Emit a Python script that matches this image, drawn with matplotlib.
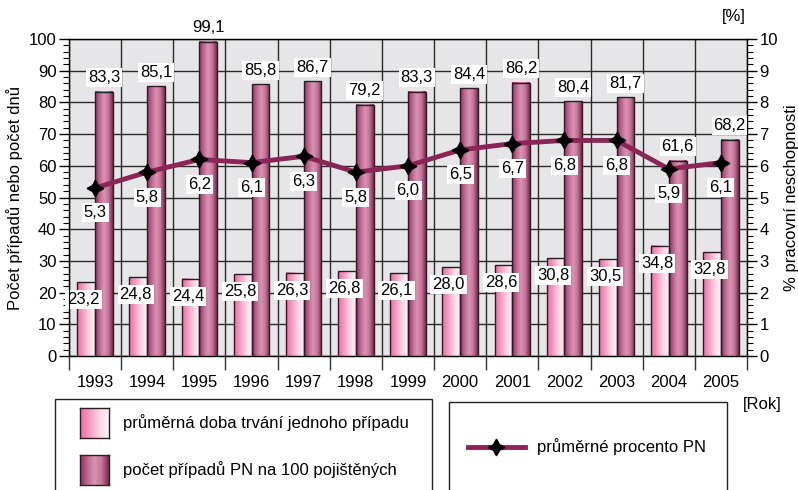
import numpy as np
import matplotlib
matplotlib.use('Agg')
import matplotlib.pyplot as plt
from matplotlib.patches import Rectangle
from matplotlib.lines import Line2D
from matplotlib.colors import LinearSegmentedColormap
from matplotlib.ticker import MultipleLocator

plt.rcParams['font.family'] = ['Liberation Sans', 'DejaVu Sans']

years = ['1993', '1994', '1995', '1996', '1997', '1998', '1999',
         '2000', '2001', '2002', '2003', '2004', '2005']
doba = [23.2, 24.8, 24.4, 25.8, 26.3, 26.8, 26.1, 28.0, 28.6, 30.8, 30.5, 34.8, 32.8]
pripady = [83.3, 85.1, 99.1, 85.8, 86.7, 79.2, 83.3, 84.4, 86.2, 80.4, 81.7, 61.6, 68.2]
procento = [5.3, 5.8, 6.2, 6.1, 6.3, 5.8, 6.0, 6.5, 6.7, 6.8, 6.8, 5.9, 6.1]

def fmt(v):
    return f'{v:.1f}'.replace('.', ',')

pink_cmap = LinearSegmentedColormap.from_list('pink', ['#ee6ba3', '#f59cc2', '#fbd3e4', '#fdf1f7'])
dark_cmap = LinearSegmentedColormap.from_list('dark', ['#952f62', '#bd6690', '#d994b3', '#c57599', '#822453'])
line_color = '#8b2457'
grid_color = '#2a2a2a'
fs = 12

fig = plt.figure(figsize=(7.98, 4.9), dpi=100)
ax = fig.add_axes([69 / 798, 1 - 356 / 490, (747 - 69) / 798, (356 - 39) / 490])
ax.set_facecolor('#e6e6e8')

x = np.arange(len(years))
w = 0.34
bars1 = ax.bar(x - w / 2, doba, w, facecolor='none', edgecolor='#222222', linewidth=1.0, zorder=4)
bars2 = ax.bar(x + w / 2, pripady, w, facecolor='none', edgecolor='#222222', linewidth=1.0, zorder=4)

# gradient fill for bars
grad = np.linspace(0, 1, 64).reshape(1, -1)
for bars, cmap in ((bars1, pink_cmap), (bars2, dark_cmap)):
    for p in bars:
        ax.imshow(grad, cmap=cmap, extent=[p.get_x(), p.get_x() + p.get_width(), 0, p.get_height()],
                  aspect='auto', zorder=3, interpolation='bicubic')

ax.set_xlim(-0.5, len(years) - 0.5)
ax.set_ylim(0, 100)

# x axis: ticks on category borders, labels at centers
ax.set_xticks(np.arange(-0.5, len(years), 1.0))
ax.set_xticklabels([])
ax.set_xticks(x, minor=True)
ax.set_xticklabels(years, minor=True, fontsize=fs)
ax.tick_params(axis='x', which='major', length=10, width=1, color='#333333', direction='out')
ax.tick_params(axis='x', which='minor', length=0, pad=14)

ax.yaxis.set_major_locator(MultipleLocator(10))
ax.yaxis.set_minor_locator(MultipleLocator(2))
ax.tick_params(axis='y', which='major', length=7, width=1, labelsize=fs, pad=2)
ax.tick_params(axis='y', which='minor', length=4, width=0.8)

ax.grid(True, which='major', color=grid_color, linewidth=1.0, zorder=1)
ax.set_axisbelow(True)
for s in ax.spines.values():
    s.set_color('#222222')
    s.set_linewidth(1.0)

ax.set_ylabel('Počet případů nebo počet dnů', fontsize=fs, labelpad=4)

ax2 = ax.twinx()
ax2.set_ylim(0, 10)
ax2.yaxis.set_major_locator(MultipleLocator(1))
ax2.yaxis.set_minor_locator(MultipleLocator(0.2))
ax2.tick_params(axis='y', which='major', length=7, width=1, labelsize=fs, pad=2)
ax2.tick_params(axis='y', which='minor', length=4, width=0.8)
ax2.set_ylabel('% pracovní neschopnosti', fontsize=fs, rotation=90, labelpad=4)
ax2.plot(x, procento, color=line_color, linewidth=3.5, marker=(4, 1, 0), markersize=12,
         markerfacecolor='black', markeredgecolor='black', zorder=6)

box = dict(boxstyle='square,pad=0.12', fc='white', ec='none')
for i in range(len(years)):
    ax.annotate(fmt(pripady[i]), (x[i] + w / 2, pripady[i]), xytext=(0, 14), textcoords='offset pixels',
                ha='center', va='center', fontsize=fs, bbox=box, zorder=8, annotation_clip=False)
    ax.annotate(fmt(doba[i]), (x[i] - w / 2 - 0.05, doba[i] - 5.5), ha='center', va='center',
                fontsize=fs, bbox=box, zorder=8)
    ax2.annotate(fmt(procento[i]), (x[i], procento[i]), xytext=(0, -25), textcoords='offset pixels',
                 ha='center', va='center', fontsize=fs, bbox=box, zorder=8)

fig.text(734 / 798, 1 - 17 / 490, '[%]', ha='center', va='center', fontsize=fs)
fig.text(762 / 798, 1 - 404 / 490, '[Rok]', ha='center', va='center', fontsize=fs)

# legend boxes
def fx(px):
    return px / 798

def fy(py):
    return 1 - py / 490

fig.patches.append(Rectangle((fx(55), fy(520)), fx(432) - fx(55), fy(399) - fy(520),
                             transform=fig.transFigure, fc='white', ec='#222222', lw=1.0))
fig.patches.append(Rectangle((fx(449), fy(520)), fx(727) - fx(449), fy(402) - fy(520),
                             transform=fig.transFigure, fc='white', ec='#222222', lw=1.0))

sw_grad = np.linspace(0, 1, 64).reshape(1, -1)
for y0, cmap in ((408, pink_cmap), (455, dark_cmap)):
    sax = fig.add_axes([fx(80), fy(y0 + 30), fx(109) - fx(80), fy(y0) - fy(y0 + 30)])
    sax.set_zorder(5)
    sax.imshow(sw_grad, cmap=cmap, aspect='auto', interpolation='bicubic')
    sax.set_xticks([])
    sax.set_yticks([])
    for s in sax.spines.values():
        s.set_color('#222222')
        s.set_linewidth(1.0)

fig.text(fx(123), fy(423), 'průměrná doba trvání jednoho případu', ha='left', va='center', fontsize=fs)
fig.text(fx(123), fy(470), 'počet případů PN na 100 pojištěných', ha='left', va='center', fontsize=fs)

fig.lines.append(Line2D([fx(468), fx(525)], [fy(447), fy(447)], transform=fig.transFigure,
                        color=line_color, linewidth=3.5, zorder=3))
fig.lines.append(Line2D([fx(496)], [fy(447)], transform=fig.transFigure, marker=(4, 1, 0),
                        markersize=12, markerfacecolor='black', markeredgecolor='black',
                        linestyle='none', zorder=4))
fig.text(fx(537), fy(447), 'průměrné procento PN', ha='left', va='center', fontsize=fs)

fig.savefig('out.png', dpi=100)
